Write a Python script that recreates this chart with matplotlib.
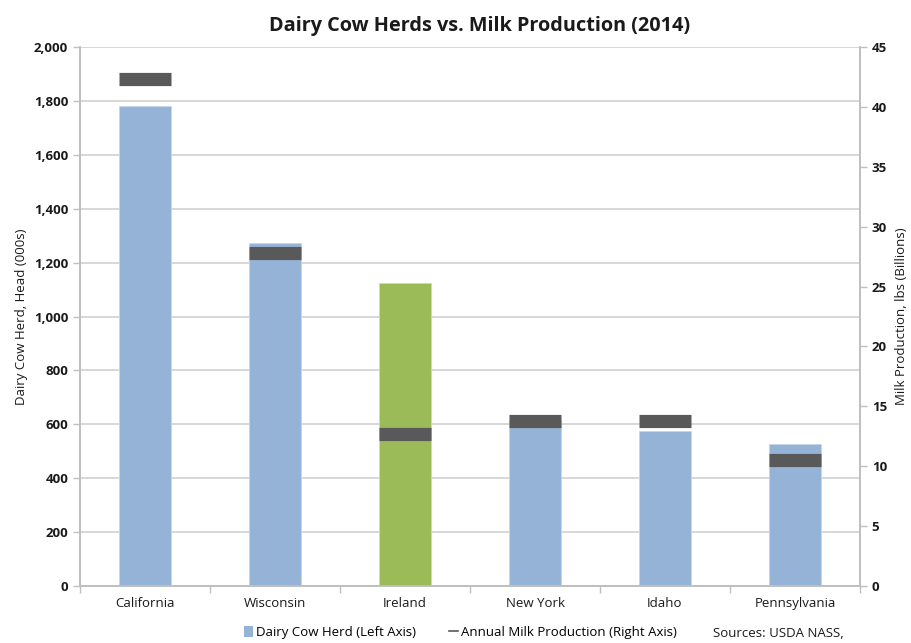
import matplotlib
matplotlib.use("Agg")
import matplotlib.pyplot as plt
from matplotlib.ticker import FuncFormatter, MultipleLocator
from matplotlib.patches import Patch
from matplotlib.lines import Line2D
import numpy as np

categories = ["California", "Wisconsin", "Ireland", "New York", "Idaho", "Pennsylvania"]
herd = [1781, 1272, 1124, 615, 575, 527]          # thousands of head
milk = [42.3, 27.8, 12.7, 13.8, 13.8, 10.5]       # billion lbs
bar_colors = ["#95B3D7", "#95B3D7", "#9BBB59", "#95B3D7", "#95B3D7", "#95B3D7"]

plt.rcParams['font.family'] = ['Open Sans', 'DejaVu Sans']

fig = plt.figure(figsize=(9.11, 6.43), dpi=100)
ax = fig.add_axes([80/911, 1-586/643, (860-80)/911, (586-47)/643])
ax2 = ax.twinx()

x = np.arange(len(categories))
ax.bar(x, herd, width=0.4, color=bar_colors, zorder=2, edgecolor="#C6D6EA", linewidth=0.6)
ax.set_xlim(-0.5, len(categories) - 0.5)
ax.set_ylim(0, 2000)
ax.yaxis.set_major_locator(MultipleLocator(200))
ax.yaxis.set_major_formatter(FuncFormatter(lambda v, p: f"{int(v):,}"))
ax.grid(axis='y', color="#D4D4D4", linewidth=1.3, zorder=0)
ax.set_axisbelow(True)

ax2.plot(x, milk, linestyle='none', marker='_', markersize=37.5, markeredgewidth=9.5,
         color="#595959", zorder=3)
ax2.set_ylim(0, 45)
ax2.yaxis.set_major_locator(MultipleLocator(5))

for a in (ax, ax2):
    a.spines["top"].set_visible(False)
    for s in ("left", "right", "bottom"):
        a.spines[s].set_color("#BFBFBF")
        a.spines[s].set_linewidth(1.2)
    a.tick_params(axis='y', colors="#BFBFBF", length=5, width=1.0, labelcolor="#1a1a1a",
                  labelsize=9.5)
    for lab in a.get_yticklabels():
        lab.set_fontweight('bold')

ax.set_xticks(x)
ax.set_xticklabels(categories, fontsize=9.5, color="#1a1a1a")
ax.tick_params(axis='x', length=0, pad=8)
ax.set_xticks(np.arange(-0.5, len(categories) + 0.5, 1), minor=True)
ax.tick_params(axis='x', which='minor', length=5, width=1.0, color="#BFBFBF")

ax.set_ylabel("Dairy Cow Herd, Head (000s)", fontsize=9.5, color="#1a1a1a", labelpad=4)
ax2.set_ylabel("Milk Production, lbs (Billions)", fontsize=9.5, color="#1a1a1a", labelpad=6)

fig.suptitle("Dairy Cow Herds vs. Milk Production (2014)", fontsize=14.3, fontweight='bold',
             x=480/911, y=1-16/643, color="#1a1a1a")

handles = [Patch(facecolor="#95B3D7", edgecolor="none"),
           Line2D([], [], color="#595959", linewidth=1.2)]
leg = fig.legend(handles, ["Dairy Cow Herd (Left Axis)", "Annual Milk Production (Right Axis)"],
                 loc='lower left', bbox_to_anchor=(232/911, -0.012), ncol=2, frameon=False,
                 fontsize=9.5, handlelength=0.7, handleheight=0.9, handletextpad=0.2,
                 columnspacing=2.5)
fig.text(713/911, 6/643, "Sources: USDA NASS,", fontsize=9.5, color="#1a1a1a")

fig.savefig("out.png", dpi=100)
